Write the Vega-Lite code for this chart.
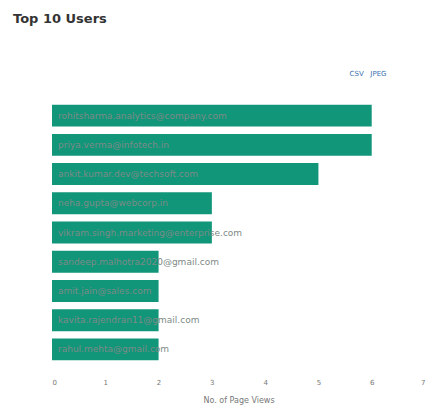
{
  "$schema": "https://vega.github.io/schema/vega-lite/v6.json",
  "autosize": "none",
  "width": 373,
  "height": 263,
  "padding": {"left": 52, "top": 101, "right": 21, "bottom": 52},
  "background": "white",
  "title": {
    "text": "Top 10 Users",
    "anchor": "start",
    "frame": "group",
    "dx": -39,
    "offset": 43,
    "font": "DejaVu Sans",
    "fontSize": 13,
    "fontWeight": "bold",
    "color": "#333333"
  },
  "data": {
    "values": [
      {"email": "rohitsharma.analytics@company.com", "views": 6},
      {"email": "priya.verma@infotech.in", "views": 6},
      {"email": "ankit.kumar.dev@techsoft.com", "views": 5},
      {"email": "neha.gupta@webcorp.in", "views": 3},
      {"email": "vikram.singh.marketing@enterprise.com", "views": 3},
      {"email": "sandeep.malhotra2020@gmail.com", "views": 2},
      {"email": "amit.jain@sales.com", "views": 2},
      {"email": "kavita.rajendran11@gmail.com", "views": 2},
      {"email": "rahul.mehta@gmail.com", "views": 2}
    ]
  },
  "config": {"view": {"stroke": null}},
  "resolve": {"axis": {"x": "independent"}},
  "layer": [
    {
      "mark": {"type": "bar", "color": "#11967a"},
      "encoding": {
        "y": {"field": "email", "type": "nominal", "sort": null, "axis": null,
              "scale": {"paddingInner": 0.25, "paddingOuter": 0.125}},
        "x": {"field": "views", "type": "quantitative",
              "scale": {"domain": [0, 7], "nice": false},
              "axis": {"orient": "bottom", "values": [0,1,2,3,4,5,6,7], "grid": false, "domain": false, "ticks": false,
                       "labelPadding": 14, "labelFontSize": 7, "labelColor": "#777777", "labelFont": "DejaVu Sans",
                       "title": "No. of Page Views", "titleFontSize": 8, "titleFontWeight": "normal", "titleColor": "#777777",
                       "titleFont": "DejaVu Sans", "titlePadding": 11}}
      }
    },
    {
      "mark": {"type": "text", "align": "left", "dx": 6, "fontSize": 9, "font": "DejaVu Sans", "color": "#7d8a86"},
      "encoding": {
        "y": {"field": "email", "type": "nominal", "sort": null},
        "x": {"datum": 0, "type": "quantitative",
              "axis": {"orient": "top", "labels": false, "ticks": false, "domain": false, "grid": false,
                       "title": "CSV\u00a0\u00a0\u00a0JPEG", "titleFontSize": 7, "titleFontWeight": "normal", "titleColor": "#3a6fb0",
                       "titleFont": "DejaVu Sans", "titleAlign": "right", "titleAnchor": "end", "titleX": 334, "titleY": -25}},
        "text": {"field": "email"}
      }
    }
  ]
}
